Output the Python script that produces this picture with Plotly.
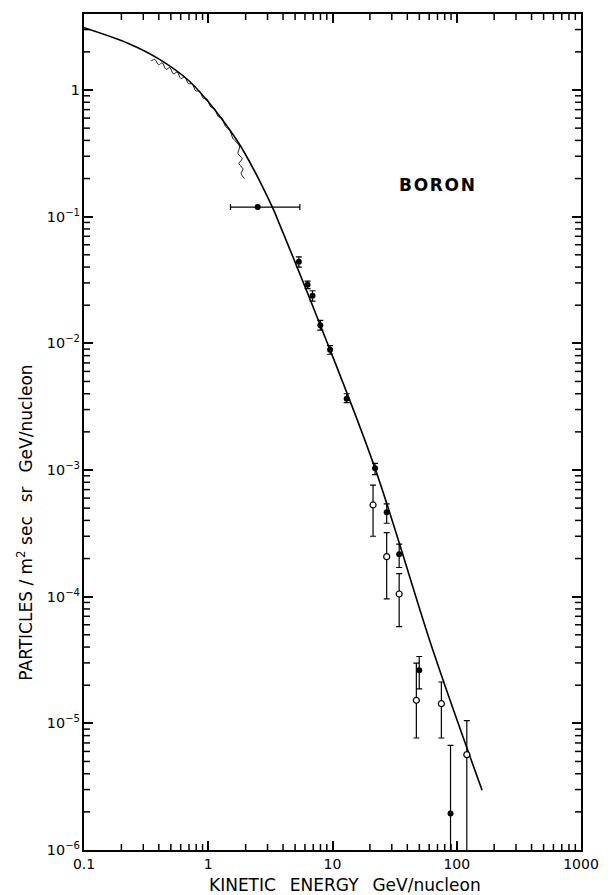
import plotly.graph_objects as go

# ---- data ----
curve_x = [0.1, 0.23, 0.396, 0.681, 0.977, 1.40, 1.84, 3.28, 3.68, 7.98, 22.0, 64.7, 160]
curve_y = [3.10, 2.32, 1.77, 1.21, 0.83, 0.527, 0.355, 0.119, 0.091, 0.0139, 1.03e-3, 3.7e-5, 2.96e-6]

wiggle_x = [0.348, 0.372, 0.398, 0.427, 0.457, 0.490, 0.525, 0.562, 0.603, 0.646, 0.692,
            0.741, 0.794, 0.851, 0.912, 0.977, 1.047, 1.122, 1.202, 1.288, 1.380, 1.479,
            1.585, 1.683, 1.786, 1.734, 1.875, 1.766, 1.901, 1.841, 1.954]
wiggle_y = [1.70, 1.74, 1.585, 1.637, 1.455, 1.503, 1.340, 1.384, 1.230, 1.271, 1.125,
            1.119, 0.984, 0.982, 0.861, 0.849, 0.735, 0.714, 0.618, 0.600, 0.514, 0.488,
            0.412, 0.389, 0.355, 0.315, 0.287, 0.262, 0.239, 0.219, 0.200]

# wide-bin point
wide_x = [2.5]
wide_y = [0.119]
wide_xlo = [1.51]
wide_xhi = [5.46]

filled_x = [5.36, 6.3, 6.9, 7.98, 9.56, 13.0, 22.0, 27.3, 34.4, 49.9, 89.1]
filled_y = [0.044, 0.029, 0.0237, 0.0139, 0.0089, 0.00366, 1.03e-3, 4.64e-4, 2.16e-4, 2.62e-5, 1.94e-6]
filled_hi = [0.0482, 0.031, 0.026, 0.0152, 0.0096, 0.0040, 1.13e-3, 5.4e-4, 2.6e-4, 3.37e-5, 6.7e-6]
filled_lo = [0.040, 0.027, 0.0215, 0.0127, 0.0082, 0.0034, 9.2e-4, 3.8e-4, 1.7e-4, 1.87e-5, 1.0e-7]

open_x = [21.2, 27.3, 34.4, 47.3, 75.2, 120.5]
open_y = [5.3e-4, 2.07e-4, 1.05e-4, 1.52e-5, 1.43e-5, 5.66e-6]
open_hi = [7.6e-4, 3.2e-4, 1.52e-4, 2.99e-5, 2.12e-5, 1.05e-5]
open_lo = [3.0e-4, 9.6e-5, 5.8e-5, 7.66e-6, 7.66e-6, 1.0e-7]

# axis ranges (log10 units): 0.1 .. 1000 and 1e-6 .. ~4
x_range_log = [-1, 3]
y_range_log = [-6, 0.6]

# minor tick positions (2..9 within every decade)
x_minor = [m * d for d in [0.1, 1, 10, 100] for m in range(2, 10)]
y_minor = [m * d for d in [1e-6, 1e-5, 1e-4, 1e-3, 1e-2, 1e-1, 1] for m in range(2, 10)
           if m * d < 10 ** y_range_log[1]]

FONT = "DejaVu Sans"

fig = go.Figure()

fig.add_trace(go.Scatter(x=curve_x, y=curve_y, mode="lines",
                         line=dict(color="black", width=1.6, shape="spline", smoothing=1.0),
                         hoverinfo="skip"))
fig.add_trace(go.Scatter(x=wiggle_x, y=wiggle_y, mode="lines",
                         line=dict(color="black", width=0.9, shape="spline", smoothing=1.0),
                         hoverinfo="skip"))

fig.add_trace(go.Scatter(
    x=wide_x, y=wide_y, mode="markers",
    marker=dict(color="black", size=6),
    error_x=dict(type="data", symmetric=False,
                 array=[h - v for h, v in zip(wide_xhi, wide_x)],
                 arrayminus=[v - l for l, v in zip(wide_xlo, wide_x)],
                 color="black", thickness=1.2, width=3)))

fig.add_trace(go.Scatter(
    x=open_x, y=open_y, mode="markers",
    marker=dict(color="white", size=6, line=dict(color="black", width=1.2)),
    error_y=dict(type="data", symmetric=False,
                 array=[h - v for h, v in zip(open_hi, open_y)],
                 arrayminus=[v - l for l, v in zip(open_lo, open_y)],
                 color="black", thickness=1.2, width=3)))

fig.add_trace(go.Scatter(
    x=filled_x, y=filled_y, mode="markers",
    marker=dict(color="black", size=6),
    error_y=dict(type="data", symmetric=False,
                 array=[h - v for h, v in zip(filled_hi, filled_y)],
                 arrayminus=[v - l for l, v in zip(filled_lo, filled_y)],
                 color="black", thickness=1.2, width=3)))

major = dict(type="log", tick0=0, dtick=1, ticks="inside", ticklen=9, tickwidth=1.5,
             tickcolor="black", showline=True, linecolor="black", linewidth=1.5,
             mirror="ticks", showgrid=False, zeroline=False)

fig.update_layout(
    xaxis=dict(**major, range=x_range_log, exponentformat="none",
               tickfont=dict(family=FONT, size=14, color="black")),
    yaxis=dict(**major, range=y_range_log, exponentformat="power",
               tickfont=dict(family=FONT, size=11.5, color="black")),
)

# minor ticks (inside, on all four sides), positioned by the axis scales
tick_line = dict(color="black", width=1.5)
for v in x_minor:
    fig.add_shape(type="line", xref="x", yref="paper", x0=v, x1=v,
                  ysizemode="pixel", yanchor=0, y0=0, y1=6, line=tick_line, layer="above")
    fig.add_shape(type="line", xref="x", yref="paper", x0=v, x1=v,
                  ysizemode="pixel", yanchor=1, y0=0, y1=-6, line=tick_line, layer="above")
for v in y_minor:
    fig.add_shape(type="line", xref="paper", yref="y", y0=v, y1=v,
                  xsizemode="pixel", xanchor=0, x0=0, x1=6, line=tick_line, layer="above")
    fig.add_shape(type="line", xref="paper", yref="y", y0=v, y1=v,
                  xsizemode="pixel", xanchor=1, x0=0, x1=-6, line=tick_line, layer="above")

fig.add_annotation(x=0.525, y=-0.042, xref="paper", yref="paper",
                   xanchor="center", yanchor="middle",
                   text="KINETIC\u2002 ENERGY\u2002 GeV/nucleon", showarrow=False,
                   font=dict(family=FONT, size=17, color="black"))
fig.add_annotation(x=-0.118, y=0.392, xref="paper", yref="paper", textangle=-90,
                   xanchor="center", yanchor="middle",
                   text="PARTICLES / m<sup>2</sup> sec\u2002 sr\u2002 GeV/nucleon", showarrow=False,
                   font=dict(family=FONT, size=17, color="black"))
fig.add_annotation(x=1.84, y=-0.753, xref="x", yref="y",
                   xanchor="center", yanchor="middle",
                   text="<b>B\u200aO\u200aR\u200aO\u200aN</b>", showarrow=False,
                   font=dict(family=FONT, size=17, color="black"))

fig.update_layout(width=611, height=895, showlegend=False,
                  margin=dict(l=84, r=20, t=13, b=45),
                  plot_bgcolor="white", paper_bgcolor="white")

fig.write_html("out.html", config={"displayModeBar": False},
               post_script="document.body.style.margin='0px';")
